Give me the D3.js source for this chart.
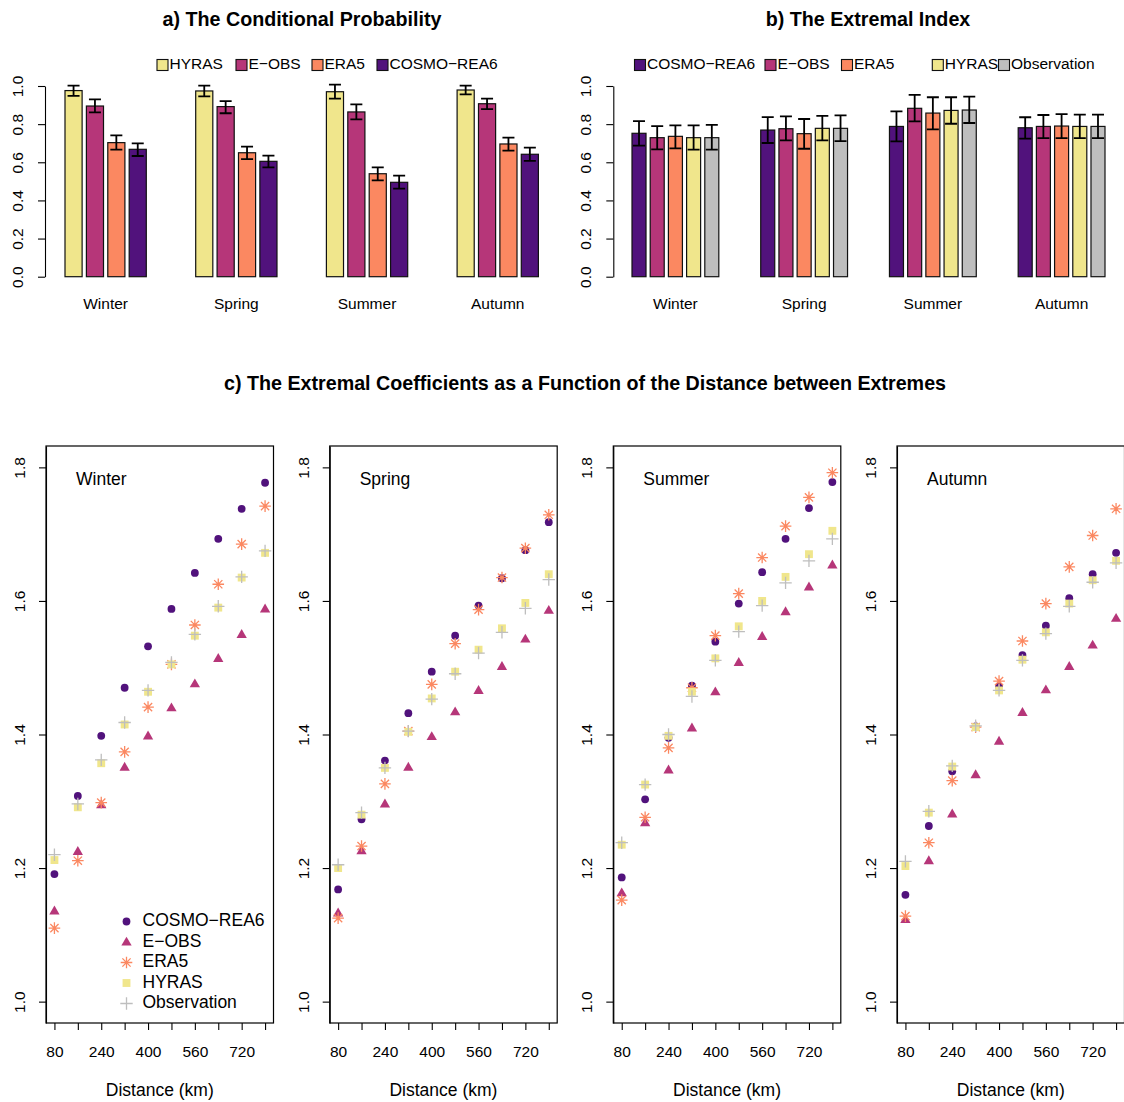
<!DOCTYPE html>
<html><head><meta charset="utf-8">
<script src="https://cdn.jsdelivr.net/npm/d3@7"></script>
<style>
body{margin:0;background:#fff;}
svg{display:block;font-family:"Liberation Sans",Arial,Helvetica,sans-serif;}
</style></head>
<body><svg id="c" width="1124" height="1102"></svg>
<script>
// ---------------- DATA ----------------
const seasons = ["Winter", "Spring", "Summer", "Autumn"];

// a) conditional probability
const probSeries = ["HYRAS", "E−OBS", "ERA5", "COSMO−REA6"];
const probValue = [
  [0.976, 0.974, 0.970, 0.979],
  [0.895, 0.892, 0.864, 0.907],
  [0.703, 0.650, 0.540, 0.696],
  [0.668, 0.605, 0.495, 0.642]
];
const probLower = [
  [0.948, 0.946, 0.934, 0.956],
  [0.862, 0.857, 0.825, 0.879],
  [0.666, 0.617, 0.505, 0.661],
  [0.633, 0.573, 0.462, 0.607]
];
const probUpper = [
  [1.002, 1.002, 1.007, 1.002],
  [0.930, 0.921, 0.904, 0.934],
  [0.741, 0.682, 0.573, 0.729],
  [0.699, 0.635, 0.530, 0.677]
];

// b) extremal index
const eiSeries = ["COSMO−REA6", "E−OBS", "ERA5", "HYRAS", "Observation"];
const eiValue = [
  [0.752, 0.769, 0.788, 0.781],
  [0.729, 0.776, 0.883, 0.788],
  [0.736, 0.750, 0.858, 0.790],
  [0.729, 0.778, 0.872, 0.788],
  [0.729, 0.778, 0.874, 0.788]
];
const eiLower = [
  [0.687, 0.701, 0.710, 0.724],
  [0.668, 0.715, 0.815, 0.727],
  [0.673, 0.671, 0.773, 0.727],
  [0.666, 0.715, 0.802, 0.727],
  [0.666, 0.711, 0.806, 0.727]
];
const eiUpper = [
  [0.816, 0.837, 0.867, 0.836],
  [0.790, 0.841, 0.953, 0.848],
  [0.794, 0.827, 0.941, 0.853],
  [0.794, 0.843, 0.941, 0.850],
  [0.796, 0.846, 0.944, 0.850]
];

// c) extremal coefficients vs distance
const distances = [80, 160, 240, 320, 400, 480, 560, 640, 720, 800];
const coefSeries = ["COSMO−REA6", "E−OBS", "ERA5", "HYRAS", "Observation"];
// each: [Winter, Spring, Summer, Autumn]
const coefCOSMO = [
  [1.191, 1.308, 1.398, 1.470, 1.532, 1.588, 1.642, 1.693, 1.738, 1.777],
  [1.168, 1.273, 1.361, 1.432, 1.494, 1.548, 1.593, 1.634, 1.676, 1.718],
  [1.186, 1.303, 1.395, 1.473, 1.539, 1.596, 1.643, 1.693, 1.739, 1.778],
  [1.160, 1.263, 1.345, 1.412, 1.472, 1.519, 1.563, 1.604, 1.640, 1.672]
];
const coefEOBS = [
  [1.136, 1.225, 1.295, 1.351, 1.398, 1.440, 1.476, 1.514, 1.550, 1.588],
  [1.133, 1.226, 1.296, 1.351, 1.397, 1.434, 1.466, 1.502, 1.543, 1.586],
  [1.163, 1.268, 1.347, 1.410, 1.464, 1.508, 1.547, 1.584, 1.621, 1.654],
  [1.123, 1.211, 1.281, 1.340, 1.390, 1.433, 1.467, 1.502, 1.534, 1.574]
];
const coefERA5 = [
  [1.110, 1.211, 1.298, 1.374, 1.441, 1.505, 1.564, 1.625, 1.685, 1.742],
  [1.125, 1.233, 1.326, 1.405, 1.475, 1.536, 1.587, 1.635, 1.679, 1.729],
  [1.152, 1.276, 1.380, 1.470, 1.548, 1.611, 1.665, 1.712, 1.755, 1.792],
  [1.128, 1.238, 1.331, 1.411, 1.480, 1.540, 1.596, 1.651, 1.698, 1.738]
];
const coefHYRAS = [
  [1.212, 1.291, 1.357, 1.415, 1.464, 1.505, 1.548, 1.590, 1.635, 1.672],
  [1.200, 1.280, 1.350, 1.404, 1.454, 1.494, 1.527, 1.559, 1.597, 1.640],
  [1.235, 1.325, 1.398, 1.464, 1.514, 1.562, 1.600, 1.636, 1.670, 1.705],
  [1.203, 1.283, 1.352, 1.411, 1.466, 1.512, 1.553, 1.596, 1.631, 1.660]
];
const coefObs = [
  [1.220, 1.296, 1.362, 1.418, 1.466, 1.508, 1.550, 1.592, 1.636, 1.675],
  [1.205, 1.283, 1.350, 1.405, 1.453, 1.491, 1.522, 1.553, 1.589, 1.632],
  [1.238, 1.325, 1.400, 1.457, 1.511, 1.554, 1.593, 1.627, 1.660, 1.693],
  [1.210, 1.285, 1.353, 1.413, 1.466, 1.511, 1.551, 1.592, 1.628, 1.657]
];

const yTicksBar = [0, 0.2, 0.4, 0.6, 0.8, 1.0];
const yTicksCoef = [1.0, 1.2, 1.4, 1.6, 1.8];
const xTicksCoef = [80, 160, 240, 320, 400, 480, 560, 640, 720, 800];
const xLabelsCoef = [80, 240, 400, 560, 720];

// ---------------- STYLE ----------------
const col = {
  "COSMO−REA6": "#51127C",
  "E−OBS": "#B63679",
  "ERA5": "#FB8861",
  "HYRAS": "#F0E68C",
  "Observation": "#BEBEBE"
};

const svg = d3.select("#c");

function titleText(x, y, t) {
  svg.append("text").attr("x", x).attr("y", y).attr("text-anchor", "middle")
    .attr("dominant-baseline", "middle").attr("font-weight", "bold")
    .attr("font-size", 19.7).attr("fill", "#000").text(t);
}

function rotateYLabels(g, dist, fs) {
  g.selectAll(".tick text").attr("transform", "rotate(-90)")
    .attr("x", 0).attr("y", -dist).attr("dy", 0)
    .attr("text-anchor", "middle").attr("font-size", fs)
    .attr("font-family", "Liberation Sans, Arial, sans-serif").attr("fill", "#000");
  g.selectAll(".tick line").attr("stroke", "#000").attr("stroke-width", 1.1);
  g.select(".domain").attr("stroke", "#000").attr("stroke-width", 1.1);
}

// ---------------- BAR PANELS ----------------
function barPanel(opt) {
  const y = d3.scaleLinear().domain([0, 1]).range([276.7, 86]);
  const x0 = d3.scaleBand().domain(seasons).range(opt.groupRange)
    .paddingInner(opt.groupPad).paddingOuter(0);
  const x1 = d3.scaleBand().domain(opt.series).range([0, x0.bandwidth()])
    .paddingInner(opt.barPad).paddingOuter(0);

  const gAx = svg.append("g").attr("transform", `translate(${opt.axisX},0)`)
    .call(d3.axisLeft(y).tickValues(yTicksBar).tickFormat(d3.format(".1f"))
      .tickSize(7).tickSizeOuter(0));
  rotateYLabels(gAx, 22, 15.5);

  opt.series.forEach((s, si) => {
    const g = svg.append("g");
    seasons.forEach((season, k) => {
      const bx = x0(season) + x1(s);
      const v = opt.value[si][k];
      g.append("rect").attr("x", bx).attr("y", y(v))
        .attr("width", x1.bandwidth()).attr("height", y(0) - y(v))
        .attr("fill", col[s]).attr("stroke", "#111").attr("stroke-width", 1.2);
    });
  });
  // error bars
  opt.series.forEach((s, si) => {
    seasons.forEach((season, k) => {
      const cx = x0(season) + x1(s) + x1.bandwidth() / 2;
      const lo = y(opt.lower[si][k]), hi = y(opt.upper[si][k]);
      const cw = 6;
      const p = `M${cx},${lo}V${hi}M${cx - cw},${lo}H${cx + cw}M${cx - cw},${hi}H${cx + cw}`;
      svg.append("path").attr("d", p).attr("fill", "none")
        .attr("stroke", "#000").attr("stroke-width", 1.8);
    });
  });
  // group labels
  seasons.forEach(season => {
    svg.append("text").attr("x", x0(season) + x0.bandwidth() / 2).attr("y", 305)
      .attr("text-anchor", "middle").attr("dominant-baseline", "middle")
      .attr("font-size", 15.5).text(season);
  });
  // legend
  opt.series.forEach((s, i) => {
    const lx = opt.legendX[i];
    svg.append("rect").attr("x", lx).attr("y", 65 - 5.5).attr("width", 11).attr("height", 11)
      .attr("fill", col[s]).attr("stroke", "#111").attr("stroke-width", 1.1);
    svg.append("text").attr("x", lx + 12.5).attr("y", 65).attr("dominant-baseline", "middle")
      .attr("font-size", 15.5).text(s);
  });
  titleText(opt.titleX, 21, opt.title);
}

barPanel({
  series: probSeries, value: probValue, lower: probLower, upper: probUpper,
  groupRange: [65, 538.4], groupPad: 0.378, barPad: 0.2, axisX: 45,
  legendX: [157, 236, 312, 377], titleX: 302, title: "a) The Conditional Probability"
});
barPanel({
  series: eiSeries, value: eiValue, lower: eiLower, upper: eiUpper,
  groupRange: [632, 1105], groupPad: 0.3256, barPad: 0.23, axisX: 613.3,
  legendX: [634.5, 765, 841.5, 932.3, 998.5], titleX: 868, title: "b) The Extremal Index"
});

// ---------------- SCATTER PANELS ----------------
titleText(585, 385, "c) The Extremal Coefficients as a Function of the Distance between Extremes");

const coefData = [coefCOSMO, coefEOBS, coefERA5, coefHYRAS, coefObs];
const panelLeft = [46, 329.7, 613.3, 897];
const panelW = 227.5;
const plotTop = 446, plotBottom = 1023;

function starPath(r) {
  const d = r * Math.SQRT1_2;
  return `M${-r},0H${r}M0,${-r}V${r}M${-d},${-d}L${d},${d}M${-d},${d}L${d},${-d}`;
}
function plusPath(r) { return `M${-r},0H${r}M0,${-r}V${r}`; }

function drawSymbol(g, si, x, y) {
  const s = coefSeries[si];
  if (si === 0) {
    g.append("circle").attr("cx", x).attr("cy", y).attr("r", 3.9).attr("fill", col[s]);
  } else if (si === 1) {
    g.append("path").attr("transform", `translate(${x},${y + 0.6})`)
      .attr("d", d3.symbol(d3.symbolTriangle, 46)()).attr("fill", col[s]);
  } else if (si === 2) {
    g.append("path").attr("transform", `translate(${x},${y})`).attr("d", starPath(5.8))
      .attr("fill", "none").attr("stroke", col[s]).attr("stroke-width", 1.3);
  } else if (si === 3) {
    g.append("path").attr("transform", `translate(${x},${y})`)
      .attr("d", d3.symbol(d3.symbolSquare, 62)()).attr("fill", col[s]);
  } else {
    g.append("path").attr("transform", `translate(${x},${y})`).attr("d", plusPath(6.2))
      .attr("fill", "none").attr("stroke", col[s]).attr("stroke-width", 1.3);
  }
}

seasons.forEach((season, k) => {
  const L = panelLeft[k];
  const x = d3.scaleLinear().domain([51.2, 828.8]).range([L, L + panelW]);
  const y = d3.scaleLinear().domain([0.968, 1.832]).range([plotBottom, plotTop]);

  const gy = svg.append("g").attr("transform", `translate(${L},0)`)
    .call(d3.axisLeft(y).tickValues(yTicksCoef).tickFormat(d3.format(".1f")).tickSize(7).tickSizeOuter(0));
  rotateYLabels(gy, 21, 15.5);

  const gx = svg.append("g").attr("transform", `translate(0,${plotBottom})`)
    .call(d3.axisBottom(x).tickValues(xTicksCoef)
      .tickFormat(d => xLabelsCoef.includes(d) ? d : "").tickSize(7).tickSizeOuter(0));
  gx.select(".domain").remove();
  gx.selectAll(".tick line").attr("stroke", "#000").attr("stroke-width", 1.1);
  gx.selectAll(".tick text").attr("font-size", 15.5).attr("fill", "#000")
    .attr("font-family", "Liberation Sans, Arial, sans-serif").attr("y", 29).attr("dy", "0.32em");

  svg.append("rect").attr("x", L).attr("y", plotTop).attr("width", panelW).attr("height", plotBottom - plotTop)
    .attr("fill", "none").attr("stroke", "#000").attr("stroke-width", 1.2);

  svg.append("text").attr("x", L + panelW / 2).attr("y", 1091).attr("text-anchor", "middle")
    .attr("dominant-baseline", "middle").attr("font-size", 17.5).text("Distance (km)");
  svg.append("text").attr("x", L + 30).attr("y", 480).attr("dominant-baseline", "middle")
    .attr("font-size", 17.5).text(season);

  const g = svg.append("g");
  coefData.forEach((arr, si) => {
    arr[k].forEach((v, i) => drawSymbol(g, si, x(distances[i]), y(v)));
  });

  if (k === 0) {
    coefSeries.forEach((s, si) => {
      const ly = 921.5 + si * 20.5;
      drawSymbol(svg, si, L + 80.5, ly);
      svg.append("text").attr("x", L + 96.5).attr("y", ly).attr("dominant-baseline", "middle")
        .attr("font-size", 17.5).text(s);
    });
  }
});
</script></body></html>
